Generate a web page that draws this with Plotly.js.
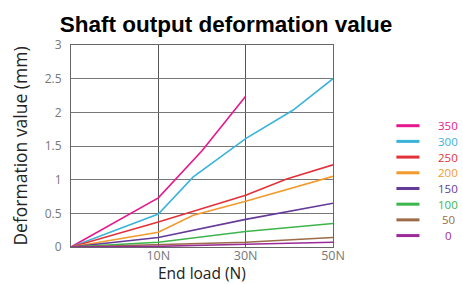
<!DOCTYPE html>
<html>
<head>
<meta charset="utf-8">
<script src="https://cdn.plot.ly/plotly-3.0.1.min.js"></script>
<style>html,body{margin:0;padding:0;background:#fff;}#chart{width:463px;height:284px;}</style>
</head>
<body>
<div id="chart"></div>
<script>
// x positions are on the chart's tick scale: 1 = 10N, 2 = 30N, 3 = 50N
var tickPos = [1, 2, 3];
var tickLabels = ["10N", "30N", "50N"];

var x350 = [0, 1, 1.5, 2];
var y350 = [0, 0.73, 1.43, 2.24];
var x300 = [0, 1, 1.4, 2, 2.54, 3];
var y300 = [0, 0.49, 1.04, 1.61, 2.03, 2.5];
var x250 = [0, 1, 2, 2.47, 3];
var y250 = [0, 0.37, 0.77, 1.01, 1.22];
var x200 = [0, 1, 1.4, 2, 3];
var y200 = [0, 0.22, 0.47, 0.68, 1.05];
var x150 = [0, 1, 2, 3];
var y150 = [0, 0.14, 0.41, 0.65];
var x100 = [0, 1, 2, 3];
var y100 = [0, 0.07, 0.23, 0.35];
var x50 = [0, 1, 2, 3];
var y50 = [0, 0.03, 0.07, 0.14];
var x0 = [0, 1, 2, 3];
var y0 = [0, 0.01, 0.04, 0.07];

var seriesNames = ["350", "300", "250", "200", "150", "100", "50", "0"];
var colors = ["#e5178b", "#3ab3da", "#e3313a", "#f39a2c", "#643a9b", "#3cb54b", "#9c6b48", "#9a2b99"];
var xs = [x350, x300, x250, x200, x150, x100, x50, x0];
var ys = [y350, y300, y250, y200, y150, y100, y50, y0];

var traces = seriesNames.map(function (n, i) {
  return {
    x: xs[i], y: ys[i], type: "scatter", mode: "lines",
    name: n, showlegend: false,
    line: {color: colors[i], width: 1.6}
  };
});

// legend drawn as key lines + coloured labels (paper coordinates)
var legTop = 0.6005, legStep = 0.0777;
var shapes = [], annotations = [];
seriesNames.forEach(function (n, i) {
  var yy = legTop - i * legStep;
  shapes.push({type: "line", xref: "paper", yref: "paper",
    x0: 1.242, x1: 1.33, y0: yy, y1: yy,
    line: {color: colors[i], width: 3}});
  annotations.push({xref: "paper", yref: "paper", x: 1.439, y: yy,
    xanchor: "center", yanchor: "middle", showarrow: false, text: n,
    borderpad: 0,
    font: {size: 11.5, color: colors[i], family: "Open Sans, sans-serif"}});
});
// x-axis title
annotations.push({xref: "paper", yref: "paper", x: 0.5, y: -0.131,
  xanchor: "center", yanchor: "middle", showarrow: false, text: "End load (N)",
  borderpad: 0, font: {size: 15.5, color: "#222", family: "Open Sans, sans-serif"}});

var layout = {
  width: 463, height: 284,
  margin: {l: 71, r: 130, t: 45, b: 37, autoexpand: false},
  paper_bgcolor: "#fff", plot_bgcolor: "#fff",
  font: {family: "Open Sans, sans-serif", color: "#777"},
  title: {
    text: "<b>Shaft output deformation value</b>",
    font: {family: "Liberation Sans, Arial, sans-serif", size: 22.5, color: "#000"},
    xref: "container", x: 0.488, xanchor: "center",
    yref: "container", y: 0.915, yanchor: "middle"
  },
  xaxis: {
    range: [0, 3], tickvals: tickPos, ticktext: tickLabels, automargin: false,
    showgrid: true, gridcolor: "#555", gridwidth: 1,
    showline: true, linecolor: "#666", linewidth: 1, mirror: true,
    zeroline: false, ticks: "", ticklabelstandoff: -3,
    tickfont: {size: 12.5, color: "#777"}
  },
  yaxis: {
    range: [0, 3], dtick: 0.5, automargin: false,
    showgrid: true, gridcolor: "#777", gridwidth: 1,
    showline: true, linecolor: "#666", linewidth: 1, mirror: true,
    zeroline: false, ticks: "", ticklabelstandoff: 6,
    tickfont: {size: 12, color: "#777"},
    title: {text: "Deformation value (mm)", font: {size: 17.5, color: "#222"}, standoff: 12}
  },
  showlegend: false,
  shapes: shapes,
  annotations: annotations
};

Plotly.newPlot("chart", traces, layout, {displayModeBar: false, staticPlot: true});
</script>
</body>
</html>
